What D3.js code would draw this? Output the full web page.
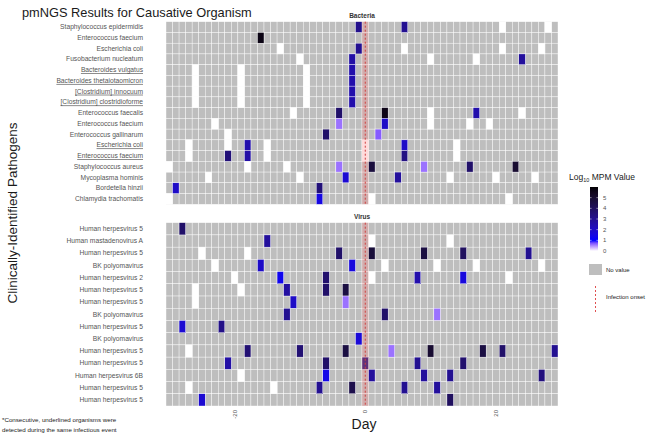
<!DOCTYPE html>
<html>
<head>
<meta charset="utf-8">
<script src="https://cdn.jsdelivr.net/npm/d3@7"></script>
<style>
  body { margin: 0; background: #fff; }
  svg { display: block; font-family: "Liberation Sans", Arial, sans-serif; }
</style>
</head>
<body>
<svg width="650" height="434"></svg>
<script>
"use strict";

// days relative to infection onset
const days = d3.range(-30, 30);
const xTicks = [-20, 0, 20];
const legendTicks = [0, 1, 2, 3, 4, 5];

const bacteriaLabels = [
  "Staphylococcus epidermidis", "Enterococcus faecium", "Escherichia coli",
  "Fusobacterium nucleatum", "Bacteroides vulgatus", "Bacteroides thetaiotaomicron",
  "[Clostridium] innocuum", "[Clostridium] clostridioforme", "Enterococcus faecalis",
  "Enterococcus faecium", "Enterococcus gallinarum", "Escherichia coli",
  "Enterococcus faecium", "Staphylococcus aureus", "Mycoplasma hominis",
  "Bordetella hinzii", "Chlamydia trachomatis"
];
// underlined = same infectious event
const bacteriaUnderlined = [4, 5, 6, 7, 11, 12];

// [row, day, log10 MPM]  (0 = sample taken, nothing detected)
const bacteriaCells = [
  [0, -1, 3.1], [0, 6, 3.0], [0, 21, 0], [0, 28, 0],
  [1, -16, 5.7],
  [2, -13, 0], [2, -1, 3.0], [2, 6, 0], [2, 21, 0], [2, 27, 0],
  [3, -10, 0], [3, -2, 2.6], [3, 10, 0], [3, 17, 0], [3, 24, 2.8],
  [4, -26, 0], [4, -19, 0], [4, -9, 0], [4, -2, 2.5],
  [5, -26, 0], [5, -19, 0], [5, -9, 0], [5, -2, 2.5],
  [6, -26, 0], [6, -19, 0], [6, -9, 0], [6, -2, 2.5],
  [7, -26, 0], [7, -19, 0], [7, -9, 0], [7, -2, 2.5],
  [8, -11, 0], [8, -4, 3.8], [8, 3, 5.6], [8, 10, 0], [8, 17, 2.5], [8, 24, 0],
  [9, -23, 0], [9, -4, 0.6], [9, 3, 2.0], [9, 10, 0], [9, 16, 0], [9, 19, 0],
  [10, -21, 0], [10, -6, 3.8], [10, 2, 0.7],
  [11, -27, 0], [11, -21, 0], [11, -18, 2.5], [11, -15, 0], [11, 0, 0], [11, 6, 2.0], [11, 14, 0],
  [12, -27, 0], [12, -21, 3.5], [12, -18, 2.6], [12, -15, 0], [12, 0, 0], [12, 6, 3.3], [12, 14, 0],
  [13, -30, 0], [13, -18, 0], [13, -12, 0], [13, -4, 0.6], [13, 1, 4.7], [13, 9, 0.6], [13, 16, 3.8], [13, 23, 5.0],
  [14, -24, 0], [14, -10, 0], [14, -3, 1.8], [14, 5, 2.8], [14, 13, 0], [14, 20, 0], [14, 26, 0],
  [15, -29, 2.0], [15, -7, 3.5],
  [16, -30, 0], [16, -7, 1.5], [16, 1, 0], [16, 22, 0]
];

const virusLabels = [
  "Human herpesvirus 5", "Human mastadenovirus A", "Human herpesvirus 5",
  "BK polyomavirus", "Human herpesvirus 2", "Human herpesvirus 5",
  "Human herpesvirus 5", "BK polyomavirus", "Human herpesvirus 5",
  "BK polyomavirus", "Human herpesvirus 5", "Human herpesvirus 5",
  "Human herpesvirus 6B", "Human herpesvirus 5", "Human herpesvirus 5"
];

const virusCells = [
  [0, -28, 3.8],
  [1, -15, 2.8], [1, 1, 0], [1, 13, 0],
  [2, -25, 0], [2, -18, 0], [2, -4, 3.8], [2, 1, 4.8], [2, 9, 4.6], [2, 15, 4.0], [2, 25, 3.0],
  [3, -23, 0], [3, -16, 2.0], [3, -2, 1.6], [3, 3, 0], [3, 11, 0], [3, 17, 0], [3, 27, 0],
  [4, -20, 0], [4, -13, 1.3], [4, -6, 3.7], [4, 1, 0], [4, 8, 2.5], [4, 15, 1.6], [4, 22, 0],
  [5, -26, 0], [5, -19, 0], [5, -12, 2.7], [5, -6, 3.8], [5, -3, 4.6],
  [6, -26, 0], [6, -11, 2.0], [6, -3, 0.6],
  [7, -12, 3.0], [7, 3, 3.8], [7, 11, 0.6],
  [8, -28, 1.8], [8, -22, 3.2],
  [9, -1, 1.7],
  [10, -27, 0], [10, -18, 3.6], [10, -10, 3.6], [10, -3, 4.6], [10, 4, 0.6], [10, 10, 5.0], [10, 18, 4.6], [10, 21, 3.8], [10, 29, 3.0],
  [11, -21, 2.6], [11, -6, 3.8], [11, 0, 3.5], [11, 8, 3.0], [11, 15, 3.7],
  [12, -19, 0], [12, -6, 1.4], [12, 1, 2.8], [12, 9, 2.8], [12, 13, 3.0], [12, 27, 3.4],
  [13, -27, 0], [13, -14, 0], [13, -7, 3.0], [13, -2, 4.4], [13, 6, 3.0], [13, 11, 2.8],
  [14, -25, 1.8], [14, 13, 4.0]
];

const svg = d3.select("svg");

// white -> blue -> black, Lab interpolation like ggplot
const color = d3.scaleLinear()
  .domain([0, 1, 6])
  .range(["#ffffff", "#0000ff", "#000000"])
  .interpolate(d3.interpolateLab);

const xScale = d3.scaleBand().domain(days).range([166, 558]);

function drawPanel(labels, cells, underlined, top, bottom, strip) {
  const yScale = d3.scaleBand().domain(d3.range(labels.length)).range([top, bottom]);
  const g = svg.append("g");

  // gray "no value" tiles for every row x day
  const grid = [];
  labels.forEach((l, i) => days.forEach(d => grid.push([i, d])));
  g.selectAll("rect.bg")
    .data(grid)
    .enter()
    .append("rect")
    .attr("class", "bg")
    .attr("x", d => xScale(d[1]))
    .attr("y", d => yScale(d[0]))
    .attr("width", xScale.bandwidth())
    .attr("height", yScale.bandwidth())
    .attr("fill", "#bebebe")
    .attr("stroke", "#ffffff")
    .attr("stroke-width", 0.4);

  g.selectAll("rect.val")
    .data(cells)
    .enter()
    .append("rect")
    .attr("class", "val")
    .attr("x", d => xScale(d[1]))
    .attr("y", d => yScale(d[0]))
    .attr("width", xScale.bandwidth())
    .attr("height", yScale.bandwidth())
    .attr("fill", d => color(d[2]))
    .attr("stroke", "#ffffff")
    .attr("stroke-width", 0.4);

  // infection onset band + dashed line
  g.append("rect")
    .attr("x", xScale(0))
    .attr("y", top)
    .attr("width", xScale.bandwidth())
    .attr("height", bottom - top)
    .attr("fill", "#ff8080")
    .attr("opacity", 0.28);
  g.append("line")
    .attr("x1", xScale(0) + xScale.bandwidth() / 2)
    .attr("x2", xScale(0) + xScale.bandwidth() / 2)
    .attr("y1", top)
    .attr("y2", bottom)
    .attr("stroke", "#d04040")
    .attr("stroke-width", 1)
    .attr("stroke-dasharray", "2,2");

  // row labels
  const yAxis = d3.axisLeft(yScale).tickSize(0).tickPadding(23).tickFormat(i => labels[i]);
  const ax = g.append("g").attr("transform", "translate(166,0)").call(yAxis);
  ax.select(".domain").remove();
  ax.selectAll("text")
    .attr("font-size", 6.7)
    .attr("font-family", "Liberation Sans, Arial, sans-serif")
    .style("fill", "#555555")
    .style("text-decoration", i => underlined.includes(i) ? "underline" : "none");

  // strip label
  g.append("text")
    .attr("x", 362)
    .attr("y", top - 4)
    .attr("text-anchor", "middle")
    .attr("font-size", 6.5)
    .attr("font-weight", "bold")
    .style("fill", "#333333")
    .text(strip);
}

drawPanel(bacteriaLabels, bacteriaCells, bacteriaUnderlined, 21.7, 204.3, "Bacteria");
drawPanel(virusLabels, virusCells, [], 222.7, 406, "Virus");

// x axis (bottom panel only)
const xAxis = d3.axisBottom(xScale).tickValues(xTicks).tickSize(0).tickPadding(0);
const xg = svg.append("g").attr("transform", "translate(0,406)").call(xAxis);
xg.select(".domain").remove();
xg.selectAll("text")
  .attr("transform", "rotate(-90)")
  .attr("text-anchor", "end")
  .attr("x", -4)
  .attr("y", 0)
  .attr("dy", "0.35em")
  .attr("font-size", 6)
  .style("fill", "#555555");

// titles
svg.append("text")
  .attr("x", 22).attr("y", 16.5)
  .attr("font-size", 12.8)
  .style("fill", "#1a1a1a")
  .text("pmNGS Results for Causative Organism");

svg.append("text")
  .attr("transform", "translate(17,213) rotate(-90)")
  .attr("text-anchor", "middle")
  .attr("font-size", 13.5)
  .style("fill", "#1a1a1a")
  .text("Clinically-Identified Pathogens");

svg.append("text")
  .attr("x", 364).attr("y", 429)
  .attr("text-anchor", "middle")
  .attr("font-size", 14)
  .style("fill", "#1a1a1a")
  .text("Day");

svg.append("text")
  .attr("x", 2).attr("y", 422)
  .attr("font-size", 6.2)
  .style("fill", "#1a1a1a")
  .text("*Consecutive, underlined organisms were");
svg.append("text")
  .attr("x", 2).attr("y", 431.5)
  .attr("font-size", 6.2)
  .style("fill", "#1a1a1a")
  .text("detected during the same infectious event");

// legend
const legendY = d3.scaleLinear().domain([0, 6]).range([251, 187]);
const lt = svg.append("text")
  .attr("x", 569).attr("y", 180)
  .attr("font-size", 8.5)
  .style("fill", "#1a1a1a");
lt.append("tspan").text("Log");
lt.append("tspan").attr("font-size", 5.5).attr("dy", 2).text("10");
lt.append("tspan").attr("dy", -2).text(" MPM Value");

const grad = svg.append("defs").append("linearGradient")
  .attr("id", "mpm")
  .attr("x1", 0).attr("y1", 1).attr("x2", 0).attr("y2", 0);
grad.selectAll("stop")
  .data(d3.range(0, 6.01, 0.25))
  .enter()
  .append("stop")
  .attr("offset", d => d / 6)
  .attr("stop-color", d => color(d));

svg.append("rect")
  .attr("x", 590).attr("y", legendY(6))
  .attr("width", 8).attr("height", legendY(0) - legendY(6))
  .attr("fill", "url(#mpm)");

legendTicks.forEach(v => {
  svg.append("line").attr("x1", 590).attr("x2", 591.6)
    .attr("y1", legendY(v)).attr("y2", legendY(v))
    .attr("stroke", "#fff").attr("stroke-width", 0.5);
  svg.append("line").attr("x1", 596.4).attr("x2", 598)
    .attr("y1", legendY(v)).attr("y2", legendY(v))
    .attr("stroke", "#fff").attr("stroke-width", 0.5);
});
svg.selectAll("text.lt")
  .data(legendTicks)
  .enter()
  .append("text")
  .attr("class", "lt")
  .attr("x", 603)
  .attr("y", d => legendY(d))
  .attr("dy", "0.35em")
  .attr("font-size", 6)
  .style("fill", "#555555")
  .text(d => d);

svg.append("rect")
  .attr("x", 589).attr("y", 264)
  .attr("width", 13).attr("height", 11)
  .attr("fill", "#bebebe");
svg.append("text")
  .attr("x", 606).attr("y", 269.5).attr("dy", "0.35em")
  .attr("font-size", 6).style("fill", "#1a1a1a")
  .text("No value");

svg.append("line")
  .attr("x1", 595.5).attr("x2", 595.5)
  .attr("y1", 286).attr("y2", 312)
  .attr("stroke", "#e05050").attr("stroke-width", 1)
  .attr("stroke-dasharray", "2,2");
svg.append("text")
  .attr("x", 606).attr("y", 297).attr("dy", "0.35em")
  .attr("font-size", 6).style("fill", "#1a1a1a")
  .text("Infection onset");
</script>
</body>
</html>
